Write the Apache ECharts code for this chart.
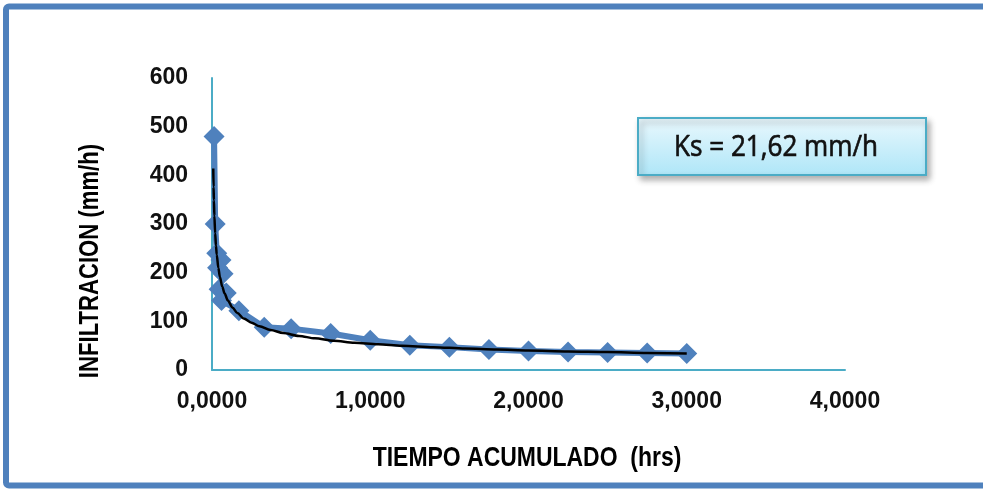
<!DOCTYPE html>
<html>
<head>
<meta charset="utf-8">
<script src="https://cdn.jsdelivr.net/npm/echarts@6/dist/echarts.min.js"></script>
<style>
  html, body { margin: 0; padding: 0; background: #ffffff; }
  #chart { width: 983px; height: 489px; }
</style>
</head>
<body>
<div id="chart"></div>
<script>
// Infiltration test: accumulated time (hours) vs infiltration rate (mm/h)
const tiempoHrs = [0.013, 0.020, 0.030, 0.057, 0.035, 0.070, 0.045, 0.090, 0.060, 0.170,
                   0.33, 0.50, 0.75, 1.00, 1.25, 1.50, 1.75, 2.00, 2.25, 2.50, 2.75, 3.00];
const infiltracion = [480, 300, 240, 226, 210, 198, 166, 158, 143, 122,
                      88, 85, 75, 61, 51, 47, 42, 39, 37, 36, 35, 34];

// Fitted (power) trend curve, sampled along the time axis
const ajusteX = [0.008, 0.010, 0.012, 0.015, 0.02, 0.025, 0.03, 0.04, 0.05, 0.065, 0.08, 0.1,
                 0.13, 0.16, 0.2, 0.25, 0.3, 0.37, 0.45, 0.55, 0.65, 0.77, 0.9, 1.05, 1.2,
                 1.4, 1.6, 1.8, 2.0, 2.25, 2.5, 2.75, 3.0];
const ajusteY = [414, 376, 349, 317, 281, 256, 237, 210, 191, 171, 157, 143,
                 128, 117, 106, 97, 90, 82, 76, 70, 65, 60, 56, 53, 50,
                 47, 44, 42, 40, 38, 37, 35, 34];

const xTicks = { min: 0, max: 4, step: 1 };
const yTicks = { min: 0, max: 600, step: 100 };
const ksLabel = 'Ks = 21,62 mm/h';

const puntos = tiempoHrs.map((t, i) => [t, infiltracion[i]]);
const curva = ajusteX.map((t, i) => [t, ajusteY[i]]);

const boldFont = "'Liberation Sans', Arial, sans-serif";
const axisColor = '#4bacc6';

const chart = echarts.init(document.getElementById('chart'), null, { renderer: 'canvas' });
chart.setOption({
  animation: false,
  backgroundColor: '#ffffff',
  grid: { left: 212, top: 78, right: 138, bottom: 119, containLabel: false },
  xAxis: {
    type: 'value',
    min: xTicks.min, max: xTicks.max, interval: xTicks.step,
    axisLine: { show: true, lineStyle: { color: axisColor, width: 2 } },
    axisTick: { show: false },
    splitLine: { show: false },
    axisLabel: {
      margin: 20,
      color: '#111',
      fontFamily: boldFont, fontWeight: 'bold', fontSize: 23,
      formatter: v => v.toFixed(4).replace('.', ',')
    }
  },
  yAxis: {
    type: 'value',
    min: yTicks.min, max: yTicks.max, interval: yTicks.step,
    axisLine: { show: true, lineStyle: { color: axisColor, width: 2 } },
    axisTick: { show: false },
    splitLine: { show: false },
    axisLabel: {
      margin: 24,
      color: '#111',
      fontFamily: boldFont, fontWeight: 'bold', fontSize: 23
    }
  },
  series: [
    {
      type: 'line',
      data: puntos,
      symbol: 'diamond',
      symbolSize: 21,
      lineStyle: { color: '#4f81bd', width: 6 },
      itemStyle: { color: '#4f81bd' },
      z: 2
    },
    {
      type: 'line',
      data: curva,
      symbol: 'none',
      smooth: 0.3,
      smoothMonotone: 'x',
      lineStyle: { color: '#000000', width: 2.5 },
      z: 3
    }
  ],
  graphic: [
    // outer frame (open on the right side)
    {
      type: 'rect',
      shape: { x: 6, y: 6.5, width: 1010, height: 479, r: 3 },
      style: { fill: 'none', stroke: '#4f81bd', lineWidth: 6 },
      silent: true
    },
    // axis titles (condensed bold)
    {
      type: 'text',
      x: 527, y: 458,
      scaleX: 0.82,
      style: {
        text: 'TIEMPO ACUMULADO  (hrs)',
        font: 'bold 28px ' + boldFont,
        fill: '#000', align: 'center', verticalAlign: 'middle'
      }
    },
    {
      type: 'text',
      x: 90, y: 261,
      rotation: Math.PI / 2,
      scaleX: 0.79,
      style: {
        text: 'INFILTRACION (mm/h)',
        font: 'bold 28px ' + boldFont,
        fill: '#000', align: 'center', verticalAlign: 'middle'
      }
    },
    // Ks annotation box
    {
      type: 'rect',
      shape: { x: 638, y: 118, width: 288, height: 57 },
      style: {
        fill: new echarts.graphic.LinearGradient(0, 0, 0, 1, [
          { offset: 0, color: '#eaf8fd' },
          { offset: 1, color: '#aee6f8' }
        ]),
        stroke: '#4bacc6', lineWidth: 2,
        shadowBlur: 6, shadowOffsetX: 3, shadowOffsetY: 4, shadowColor: 'rgba(0,0,0,0.3)'
      }
    },
    {
      type: 'text',
      x: 776, y: 147,
      scaleX: 0.87,
      style: {
        text: ksLabel,
        font: '30px "Open Sans", sans-serif',
        fill: '#111', stroke: '#111', lineWidth: 0.7,
        align: 'center', verticalAlign: 'middle'
      }
    }
  ]
});
</script>
</body>
</html>
